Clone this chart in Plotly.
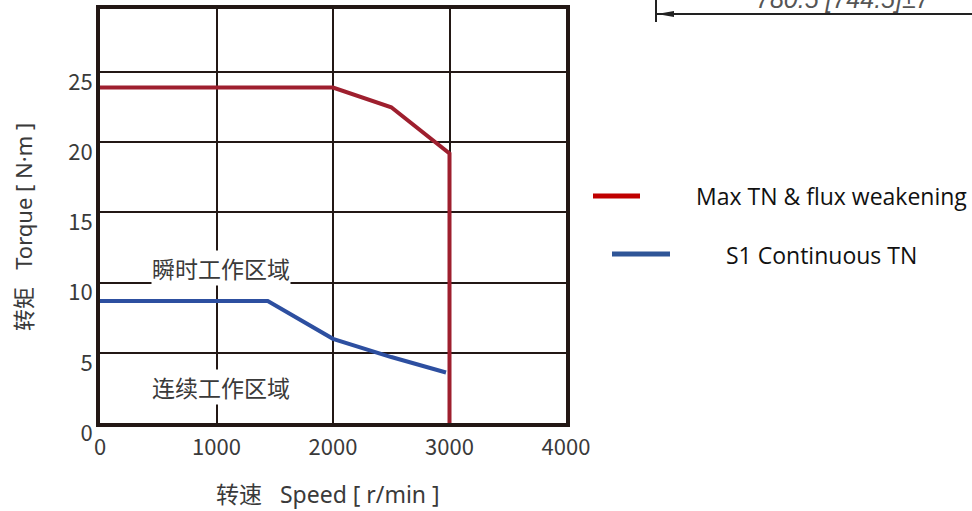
import plotly.graph_objects as go

# ---- data ----
max_speed = [0, 2000, 2500, 3000, 3000]
max_torque = [23.9, 23.9, 22.5, 19.2, 0]
s1_speed = [0, 1440, 2000, 2500, 2970]
s1_torque = [8.7, 8.7, 6.0, 4.7, 3.6]
x_ticks = [0, 1000, 2000, 3000, 4000]
y_ticks = [0, 5, 10, 15, 20, 25]
legend_names = ["Max TN & flux weakening", "S1 Continuous TN"]
zone_labels = ["瞬时工作区域", "连续工作区域"]

RED = "#9E1F2E"
BLUE = "#2D4FA0"
GRID = "#231815"
CJK = "Noto Sans CJK SC"
MIX = "Noto Sans, Noto Sans CJK SC"
TXT = "#3a3a3a"

# plot area in pixels
L, R, T, B = 100, 566, 9, 423

fig = go.Figure()
fig.add_trace(go.Scatter(x=max_speed, y=max_torque, mode="lines",
                         line=dict(color=RED, width=4), name=legend_names[0],
                         showlegend=False))
fig.add_trace(go.Scatter(x=s1_speed, y=s1_torque, mode="lines",
                         line=dict(color=BLUE, width=4), name=legend_names[1],
                         showlegend=False))

fig.update_layout(
    width=972, height=511,
    margin=dict(l=L, r=972 - R, t=T, b=511 - B),
    paper_bgcolor="white", plot_bgcolor="white",
    font=dict(family=CJK, color=TXT),
    xaxis=dict(range=[0, 4000], tickvals=x_ticks, ticks="", showgrid=True,
               gridcolor=GRID, gridwidth=2, showline=True, linecolor=GRID,
               linewidth=4, mirror=True, zeroline=False, automargin=False,
               ticklabelstandoff=2,
               tickfont=dict(size=22, family=CJK, color=TXT)),
    yaxis=dict(range=[0, 29.5], tickvals=y_ticks, ticks="", showgrid=True,
               gridcolor=GRID, gridwidth=2, showline=True, linecolor=GRID,
               linewidth=4, mirror=True, zeroline=False, automargin=False,
               ticklabelshift=10, ticklabelstandoff=-1,
               tickfont=dict(size=22, family=CJK, color=TXT)),
)


def px(x):
    return (x - L) / (R - L)


def py(y):
    return (B - y) / (B - T)


def note(x, y, text, **kw):
    kw.setdefault("xanchor", "center")
    kw.setdefault("yanchor", "middle")
    fig.add_annotation(x=px(x), y=py(y), xref="paper", yref="paper", text=text,
                       showarrow=False, **kw)


# axis titles
note(328, 494, "转速   Speed [ r/min ]", font=dict(size=23, family=MIX, color=TXT))
note(23, 227, "转矩   Torque [ N·m ]", textangle=-90, font=dict(size=22, family=MIX, color=TXT))

# zone labels
note(221, 268, zone_labels[0], font=dict(size=23, family=CJK, color=TXT),
     bgcolor="white", borderpad=0)
note(221, 387, zone_labels[1], font=dict(size=23, family=CJK, color=TXT),
     bgcolor="white", borderpad=0)

# custom legend
fig.add_shape(type="line", xref="paper", yref="paper", x0=px(593), x1=px(640), y0=py(196), y1=py(196),
              line=dict(color="#C00000", width=5))
fig.add_shape(type="line", xref="paper", yref="paper", x0=px(612), x1=px(670), y0=py(254), y1=py(254),
              line=dict(color="#2F5597", width=5))
note(694, 196, legend_names[0], xanchor="left", font=dict(size=23, family="Open Sans", color="#111111"))
note(724, 255, legend_names[1], xanchor="left", font=dict(size=23, family="Open Sans", color="#111111"))

# dimension fragment at top-right
fig.add_shape(type="line", xref="paper", yref="paper", x0=px(656), x1=px(972), y0=py(14), y1=py(14),
              line=dict(color="#222222", width=2))
fig.add_shape(type="line", xref="paper", yref="paper", x0=px(656), x1=px(656), y0=py(0), y1=py(22),
              line=dict(color="#222222", width=2))
fig.add_shape(type="path", xref="paper", yref="paper",
              path=f"M {px(657)} {py(14)} L {px(674)} {py(11)} L {px(674)} {py(17)} Z",
              fillcolor="#222222", line=dict(color="#222222", width=0))
note(843, 15, "<i>780.5 [744.5]±7</i>", yanchor="bottom",
     font=dict(size=25, family="Liberation Sans", color="#555555"))

fig.write_html("out.html", config={"displayModeBar": False},
               post_script="document.body.style.margin='0';document.body.style.padding='0';")
